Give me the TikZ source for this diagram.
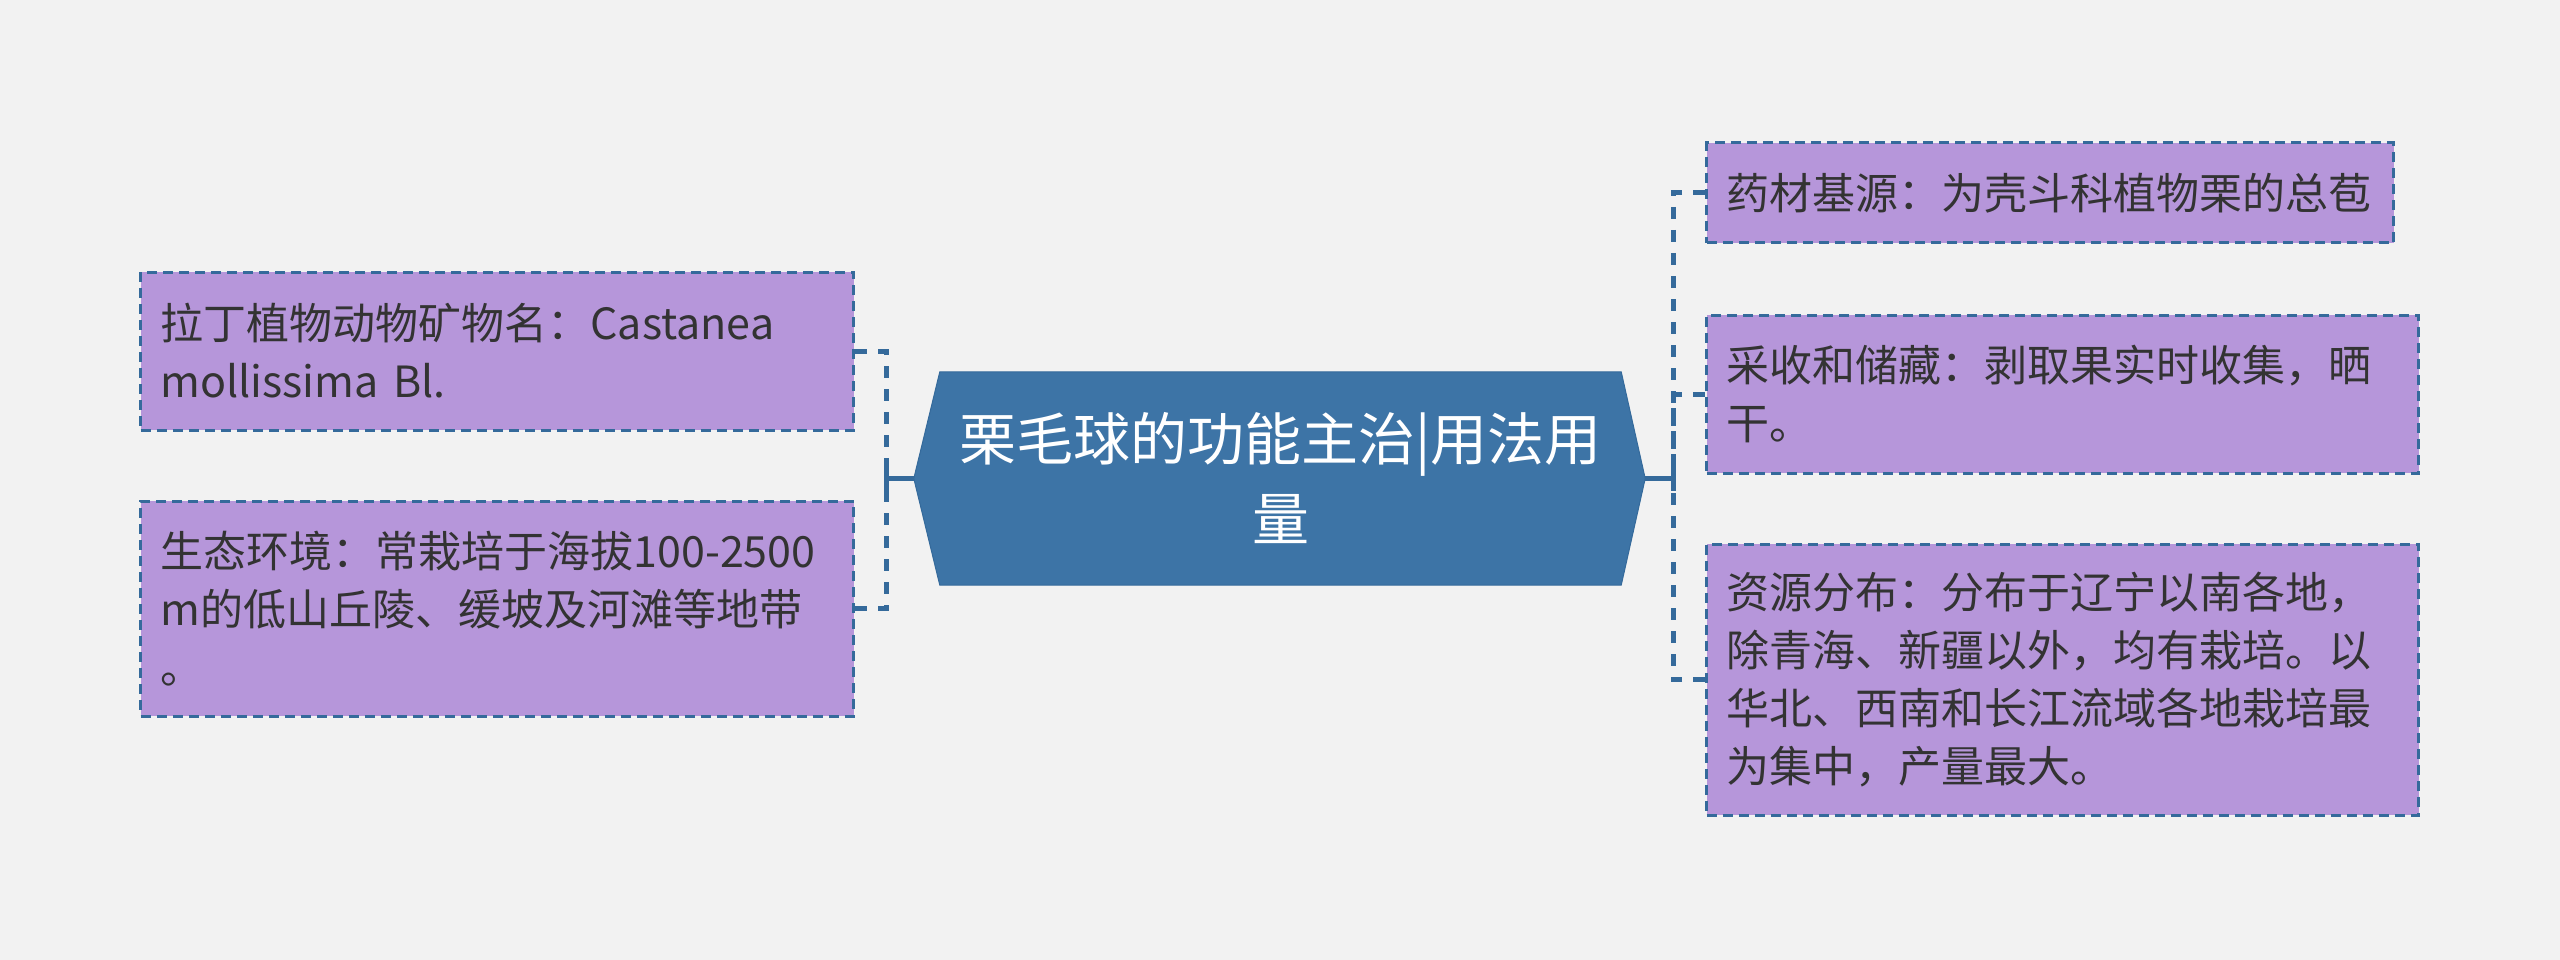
\documentclass[tikz,border=0pt]{standalone}
\usepackage{fontspec}
\setmainfont{Noto Sans CJK SC}
\usetikzlibrary{backgrounds}
\definecolor{bgcol}{HTML}{F2F2F2}
\definecolor{rootcol}{HTML}{3D74A6}
\definecolor{leafcol}{HTML}{B696DA}
\definecolor{linecol}{HTML}{356A9B}
\definecolor{txtcol}{HTML}{333333}
\begin{document}
\begin{tikzpicture}[x=1pt,y=-1pt,
  leaf/.style={draw=linecol,line width=3pt,dash pattern=on 10pt off 6pt,fill=leafcol,text=txtcol,
    inner xsep=20pt,inner ysep=0pt,align=left,font=\fontsize{43}{58}\selectfont},
  link/.style={draw=linecol,line width=5pt},
  dlink/.style={link,dash pattern=on 12pt off 11pt}]
  \useasboundingbox (0,0) rectangle (2560,960);
  \node[text=white,align=center,minimum width=681pt,minimum height=213pt,
    font=\fontsize{57}{80}\selectfont] (root) at (1280.5,478.5) {栗毛球的功能主治|用法用\\量};
  \coordinate (rootW) at ([xshift=-26pt]root.west);
  \coordinate (rootE) at ([xshift=24pt]root.east);
  \begin{scope}[on background layer]
    \fill[bgcol] (0,0) rectangle (2560,960);
    \filldraw[fill=rootcol,draw=linecol,line width=1pt] (root.north west) -- (root.north east) -- (rootE)
      -- (root.south east) -- (root.south west) -- (rootW) -- cycle;
  \end{scope}
  \node[leaf,text width=673pt,minimum height=158pt,anchor=east] (latin) at (855,351)
    {拉丁植物动物矿物名：Castanea\\mollissima Bl.};
  \node[leaf,text width=673pt,minimum height=215pt,anchor=east] (habitat) at (855,608.5)
    {生态环境：常栽培于海拔100-2500\\m的低山丘陵、缓坡及河滩等地带\\。};
  \node[leaf,text width=647pt,minimum height=100pt,anchor=west] (source) at (1705,193)
    {药材基源：为壳斗科植物栗的总苞};
  \node[leaf,text width=672pt,minimum height=158pt,anchor=west] (harvest) at (1705,394)
    {采收和储藏：剥取果实时收集，晒\\干。};
  \node[leaf,text width=672pt,minimum height=271pt,anchor=west] (range) at (1705,679.5)
    {资源分布：分布于辽宁以南各地，\\除青海、新疆以外，均有栽培。以\\华北、西南和长江流域各地栽培最\\为集中，产量最大。};
  \coordinate (lhub) at (886,478.5);
  \coordinate (rhub) at (1673,478.5);
  \draw[link] (rootW) -- (lhub);
  \draw[link] ([yshift=-12pt]lhub) -- ([yshift=12pt]lhub);
  \draw[dlink] (latin.east) -| (lhub);
  \draw[dlink] (habitat.east) -| (lhub);
  \draw[link] (rootE) -- (rhub);
  \draw[link] ([yshift=-12pt]rhub) -- ([yshift=12pt]rhub);
  \draw[dlink] (source.west) -| (rhub);
  \draw[dlink] (harvest.west) -| (rhub);
  \draw[dlink] (range.west) -| (rhub);
\end{tikzpicture}
\end{document}
